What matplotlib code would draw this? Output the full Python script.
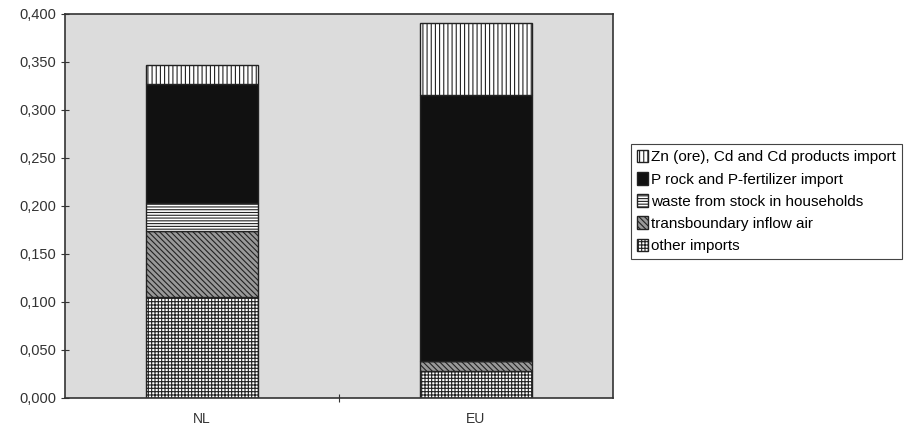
import numpy as np
import matplotlib.pyplot as plt
from matplotlib.ticker import FuncFormatter

plt.rcParams['hatch.linewidth'] = 0.8
plt.rcParams['font.family'] = ['Liberation Sans', 'DejaVu Sans']

# data
regions = ['NL', 'EU']
series = ['Zn (ore), Cd and Cd products import',
          'P rock and P-fertilizer import',
          'waste from stock in households',
          'transboundary inflow air',
          'other imports']
other_imports = [0.105, 0.028]
transboundary = [0.069, 0.010]
waste_households = [0.029, 0.000]
p_rock = [0.124, 0.278]
zn_cd = [0.020, 0.074]

# stacking order bottom -> top
stack = [other_imports, transboundary, waste_households, p_rock, zn_cd]
names = series[::-1]
hatches = ['+++++', '\\\\\\\\\\\\', '------', '', '||||']
faces = ['white', '#999999', 'white', '#111111', 'white']

fig = plt.figure(figsize=(9.11, 4.33), dpi=100)
ax = fig.add_axes([0.0714, 0.081, 0.601, 0.887])
ax.set_facecolor('#dcdcdc')

x = np.arange(len(regions))
bottom = np.zeros(len(regions))
handles = []
for vals, name, h, fc in zip(stack, names, hatches, faces):
    b = ax.bar(x, vals, 0.41, bottom=bottom, color=fc, hatch=h,
               edgecolor='#222222', linewidth=1.0, label=name)
    handles.append(b)
    bottom += np.array(vals)

ax.set_xlim(-0.5, 1.5)
ax.set_ylim(0, 0.4)
ax.set_yticks(np.arange(0, 0.401, 0.05))
ax.yaxis.set_major_formatter(FuncFormatter(lambda v, p: f'{v:.3f}'.replace('.', ',')))
ax.set_xticks([0.5])
ax.set_xticklabels([''])
ax.set_xticks(x, minor=True)
ax.set_xticklabels(regions, minor=True)
ax.tick_params(axis='x', which='minor', length=0, pad=10)
ax.tick_params(axis='x', which='major', direction='inout', length=6)
ax.tick_params(axis='y', direction='inout', length=6, labelsize=10.5, colors='#333333')
ax.tick_params(axis='x', which='both', labelsize=10, colors='#333333')
for s in ax.spines.values():
    s.set_color('#333333')
    s.set_linewidth(1.2)

leg = fig.legend(handles[::-1], series, loc='upper left',
                 bbox_to_anchor=(0.684, 0.686), fontsize=11,
                 handlelength=0.7, handleheight=0.9, handletextpad=0.2,
                 borderpad=0.4, labelspacing=0.5, fancybox=False,
                 edgecolor='#444444', framealpha=1)
leg.get_frame().set_linewidth(0.8)

fig.savefig('out.png', dpi=100)
